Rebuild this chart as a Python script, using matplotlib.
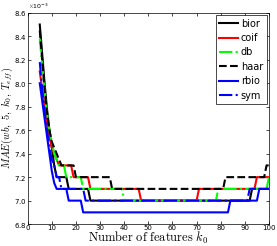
import numpy as np
import matplotlib
matplotlib.use('Agg')
import matplotlib.pyplot as plt

plt.rcParams['mathtext.fontset'] = 'cm'

# number of features k0
k = np.arange(5, 101)

# MAE values (x 1e-3)
bior = ([8.5, 8.25, 8.0, 7.78, 7.6, 7.45, 7.3, 7.2, 7.2, 7.2, 7.2, 7.2]
        + [7.1] * 9 + [7.0] * 67 + [7.1] * 8)
coif = ([8.1, 7.95, 7.8, 7.65, 7.55, 7.45, 7.4, 7.35]
        + [7.3] * 6 + [7.2] * 7 + [7.1] * 21 + [7.0] * 24 + [7.1] * 24 + [7.2] * 6)
db = ([8.38, 8.15, 7.95, 7.75, 7.6, 7.5, 7.4, 7.35]
      + [7.3] * 3 + [7.2] * 7 + [7.1] * 17 + [7.0] * 39 + [7.1] * 21 + [7.2])
haar = ([8.45, 8.2, 7.95, 7.75, 7.6, 7.5, 7.45, 7.4, 7.35]
        + [7.3] * 6 + [7.2] * 15 + [7.1] * 47 + [7.2] * 17 + [7.3] * 2)
rbio = ([8.0, 7.85, 7.7, 7.55, 7.4, 7.25, 7.15]
        + [7.1] * 5 + [7.0] * 6 + [6.9] * 61 + [7.0] * 12 + [7.1] * 5)
sym = ([8.18, 7.95, 7.75, 7.6, 7.45, 7.35, 7.3, 7.2, 7.2]
       + [7.1] * 10 + [7.0] * 68 + [7.1] * 9)

series = [
    ('bior', bior, 'k', '-'),
    ('coif', coif, 'r', '-'),
    ('db', db, '#00ff00', '-.'),
    ('haar', haar, 'k', '--'),
    ('rbio', rbio, 'b', '-'),
    ('sym', sym, 'b', '-.'),
]

fig = plt.figure(figsize=(2.77, 2.46), dpi=100)
ax = fig.add_axes([0.1, 0.089, 0.871, 0.859])

for name, vals, color, ls in series:
    ax.plot(k, np.array(vals) * 1e-3, color=color, linestyle=ls, linewidth=1.5, label=name)

ax.set_xlim(0, 100)
ax.set_ylim(6.8e-3, 8.6e-3)
ax.set_xticks(np.arange(0, 101, 10))
ax.set_yticks(np.arange(6.8, 8.61, 0.2) * 1e-3)
ax.ticklabel_format(axis='y', style='sci', scilimits=(0, 0), useMathText=True)
ax.tick_params(direction='in', labelsize=5, length=2.5, width=0.5,
               top=True, right=True)
ax.tick_params(axis='x', pad=1)
ax.tick_params(axis='y', pad=1)
ax.yaxis.get_offset_text().set_fontsize(4.5)
for s in ax.spines.values():
    s.set_linewidth(0.5)

ax.set_xlabel(r'$\mathrm{Number\ of\ features}\ k_0$', fontsize=9, labelpad=-1)
ax.set_ylabel(r'$MAE(wb,\ 5,\ k_0,\ T_{eff})$', fontsize=7.5)
ax.yaxis.set_label_coords(-0.054, 0.5)

leg = ax.legend(loc='upper right', fontsize=7, fancybox=False, framealpha=1,
                edgecolor='k', borderaxespad=0.25, handlelength=2.0,
                handletextpad=0.25, labelspacing=0.45, borderpad=0.35)
leg.get_frame().set_linewidth(0.5)

fig.savefig('out.png', dpi=100)
